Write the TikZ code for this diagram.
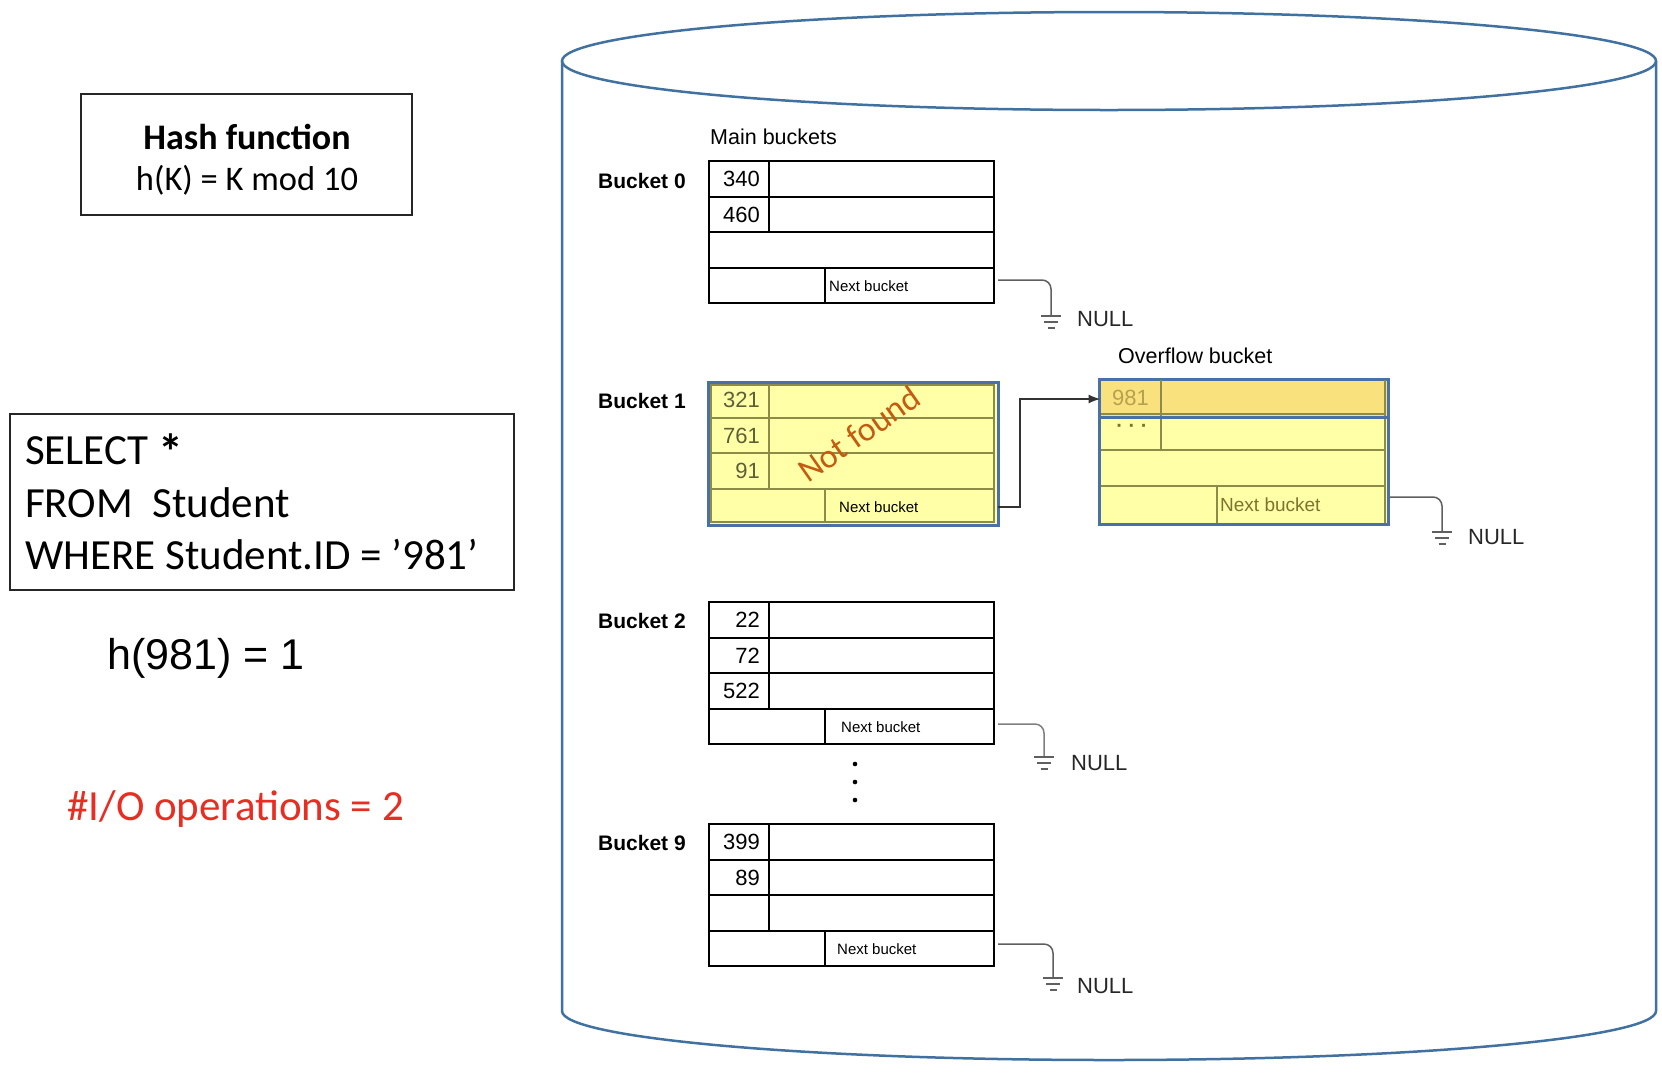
\documentclass[tikz,border=0pt]{standalone}
\usepackage{fontspec}
\setmainfont{Liberation Sans}
\newfontfamily\calib{Carlito}
\usetikzlibrary{arrows.meta}

\definecolor{cylblue}{RGB}{65,113,160}
\definecolor{hlblue}{RGB}{74,112,168}
\definecolor{lineolive}{RGB}{140,140,72}
\definecolor{keyolive}{RGB}{95,95,55}
\definecolor{paleyellow}{RGB}{255,255,168}
\definecolor{goldrow}{RGB}{249,226,125}
\definecolor{goldtext}{RGB}{182,160,82}
\definecolor{nbolive}{RGB}{125,115,45}
\definecolor{wiregray}{RGB}{95,95,95}
\definecolor{notfound}{RGB}{197,90,17}
\definecolor{ioRed}{RGB}{232,45,35}

% ground symbol hanging below a named coordinate
\newcommand{\earth}[1]{%
  \draw[gnd] ([xshift=-10pt]#1) -- ([xshift=10pt]#1);
  \draw[gnd] ([shift={(-7pt,-6pt)}]#1) -- ([shift={(7pt,-6pt)}]#1);
  \draw[gnd] ([shift={(-3.5pt,-12pt)}]#1) -- ([shift={(3.5pt,-12pt)}]#1);
}

\begin{document}
\begin{tikzpicture}[x=1pt,y=-1pt,
  bbox/.style={draw=black, line width=1.3pt, inner sep=0pt, outer sep=0pt, anchor=north west},
  grid/.style={draw=black, line width=1.3pt},
  olgrid/.style={draw=lineolive, line width=1.6pt},
  cellnode/.style={inner sep=0pt, outer sep=0pt, anchor=north west},
  key/.style={font=\fontsize{22}{22}\selectfont, anchor=east, inner sep=0pt},
  blabel/.style={font=\bfseries\fontsize{21}{21}\selectfont, anchor=west, inner sep=0pt},
  nbtxt/.style={font=\fontsize{15}{15}\selectfont, anchor=west, inner sep=0pt},
  title/.style={font=\fontsize{21.5}{21.5}\selectfont, anchor=west, inner sep=0pt},
  wire/.style={draw=wiregray, line width=1.5pt, rounded corners=9pt},
  gnd/.style={draw=wiregray, line width=1.5pt},
  nulltxt/.style={font=\fontsize{22}{22}\selectfont, anchor=west, inner sep=0pt, text=black!85},
  frame/.style={draw=black!85, line width=2pt, inner sep=0pt, outer sep=0pt, anchor=north west},
  link/.style={draw=black!80, line width=1.5pt, -{Latex[length=12pt,width=9pt]}}
]
\useasboundingbox (0,0) rectangle (1662,1072);

% ---------- disk cylinder ----------
\draw[cylblue, line width=2.5pt] (1109,61) ellipse [x radius=547pt, y radius=49pt];
\draw[cylblue, line width=2.5pt] (562,61) -- (562,1011)
   arc[start angle=180, end angle=360, x radius=547pt, y radius=49pt] -- (1656,61);

% ---------- left column ----------
\node[frame, minimum width=331pt, minimum height=121pt] (hf) at (81,94) {};
\node[font=\calib\bfseries\fontsize{36}{36}\selectfont, anchor=base, inner sep=0pt] (hft) at (247,149) {Hash function};
\node[font=\calib\fontsize{34.5}{34.5}\selectfont, anchor=base, inner sep=0pt] (hfe) at (247,190) {h(K) = K mod 10};

\node[frame, minimum width=504pt, minimum height=176pt] (sql) at (10,414) {};
\node[font=\calib\fontsize{43}{43}\selectfont, anchor=base west, inner sep=0pt] (sq1) at (25,464)
  {SELECT {\bfseries\fontsize{50}{50}\selectfont\raisebox{-5pt}{*}}};
\node[font=\calib\fontsize{43}{43}\selectfont, anchor=base west, inner sep=0pt] (sq2) at (25,517) {FROM\ \ Student};
\node[font=\calib\fontsize{43}{43}\selectfont, anchor=base west, inner sep=0pt] (sq3) at (25,569) {WHERE Student.ID = ’981’};

\node[font=\fontsize{43}{43}\selectfont, anchor=base west, inner sep=0pt] (hv) at (107,669) {h(981) = 1};
\node[font=\calib\fontsize{43}{43}\selectfont, anchor=base west, inner sep=0pt, text=ioRed] (io) at (67,820) {\#I/O operations = 2};

% ---------- headings ----------
\node[title] (mb) at (710,137) {Main buckets};
\node[title] (ob) at (1118,356) {Overflow bucket};

% ---------- Bucket 0 ----------
\node[bbox, minimum width=285pt, minimum height=142pt] (bk0) at (709,161) {};
\draw[grid] (709,197) -- (994,197) (709,232) -- (994,232) (709,268) -- (994,268)
            (769,161) -- (769,232) (825,268) -- (825,303);
\node[key] (k00) at (760,179) {340};
\node[key] (k01) at (760,215) {460};
\node[blabel] (l0) at (598,181) {Bucket 0};
\node[cellnode, minimum width=169pt, minimum height=35pt] (nb0) at (825,268) {};
\node[nbtxt] (t0) at (829,286) {Next bucket};
\coordinate (g0) at (1051,316);
\draw[wire] ([shift={(4pt,5.5pt)}]nb0.east) -| (g0);
\earth{g0}
\node[nulltxt] (n0) at (1077,319) {NULL};

% ---------- Bucket 1 (searched, highlighted) ----------
\node[bbox, draw=hlblue, line width=3pt, fill=paleyellow, minimum width=290pt, minimum height=143pt] (bk1) at (708,382) {};
\draw[olgrid] (711,385) rectangle (994,522);
\draw[olgrid] (711,418) -- (994,418) (711,453) -- (994,453) (711,489) -- (994,489)
              (769,385) -- (769,489) (825,489) -- (825,522);
\node[key, text=keyolive] (k10) at (760,400) {321};
\node[key, text=keyolive] (k11) at (760,436) {761};
\node[key, text=keyolive] (k12) at (760,471) {91};
\node[blabel] (l1) at (598,401) {Bucket 1};
\node[cellnode, minimum width=169pt, minimum height=36pt] (nb1) at (825,489) {};
\node[nbtxt] (t1) at (839,507) {Next bucket};
\node[font=\calib\fontsize{34}{34}\selectfont, text=notfound, rotate=35, inner sep=0pt] (nf) at (859,434) {Not found};

% ---------- Overflow bucket ----------
\node[bbox, draw=hlblue, line width=3pt, fill=paleyellow, minimum width=289pt, minimum height=145pt] (ov) at (1099,379) {};
\node[cellnode, fill=goldrow, minimum width=286pt, minimum height=37pt] (ovr1) at (1100.5,380.5) {};
\draw[olgrid] (1385,380) -- (1385,523) (1101,450) -- (1385,450) (1101,486) -- (1385,486)
              (1161,380) -- (1161,450) (1217,486) -- (1217,523) (1101,414) -- (1385,414);
\draw[hlblue, line width=3pt] (1099,417) -- (1388,417);
\node[key, text=goldtext] (k20) at (1149,398) {981};
\node[font=\bfseries\fontsize{20}{20}\selectfont, text=nbolive, inner sep=0pt] (dots) at (1132,428) {· · ·};
\node[cellnode, minimum width=168pt, minimum height=38pt] (nbo) at (1217,486) {};
\node[nbtxt, font=\fontsize{19}{19}\selectfont, text=nbolive] (to) at (1220,505) {Next bucket};
\coordinate (go) at (1442,532);
\draw[wire] ([shift={(5pt,8pt)}]nbo.east) -| (go);
\earth{go}
\node[nulltxt] (no) at (1468,537) {NULL};

% chain pointer from bucket 1 to its overflow bucket
\draw[link] ([xshift=4pt]nb1.east) -- ++(22,0) |- (ovr1.west);

% ---------- Bucket 2 ----------
\node[bbox, minimum width=285pt, minimum height=142pt] (bk2) at (709,602) {};
\draw[grid] (709,638) -- (994,638) (709,673) -- (994,673) (709,709) -- (994,709)
            (769,602) -- (769,709) (825,709) -- (825,744);
\node[key] (k30) at (760,620) {22};
\node[key] (k31) at (760,656) {72};
\node[key] (k32) at (760,691) {522};
\node[blabel] (l2) at (598,621) {Bucket 2};
\node[cellnode, minimum width=169pt, minimum height=35pt] (nb2) at (825,709) {};
\node[nbtxt] (t2) at (841,727) {Next bucket};
\coordinate (g2) at (1044,757);
\draw[wire, draw=wiregray!80] ([shift={(4pt,2.5pt)}]nb2.east) -| (g2);
\earth{g2}
\node[nulltxt] (n2) at (1071,763) {NULL};

% vertical ellipsis between bucket 2 and bucket 9
\foreach \yy in {764,782,800} \fill (855,\yy) circle[radius=2.3pt];

% ---------- Bucket 9 ----------
\node[bbox, minimum width=285pt, minimum height=142pt] (bk9) at (709,824) {};
\draw[grid] (709,860) -- (994,860) (709,895) -- (994,895) (709,931) -- (994,931)
            (769,824) -- (769,931) (825,931) -- (825,966);
\node[key] (k90) at (760,842) {399};
\node[key] (k91) at (760,878) {89};
\node[blabel] (l9) at (598,843) {Bucket 9};
\node[cellnode, minimum width=169pt, minimum height=35pt] (nb9) at (825,931) {};
\node[nbtxt] (t9) at (837,949) {Next bucket};
\coordinate (g9) at (1053,978);
\draw[wire] ([shift={(4pt,4.5pt)}]nb9.east) -| (g9);
\earth{g9}
\node[nulltxt] (n9) at (1077,986) {NULL};

\end{tikzpicture}
\end{document}
